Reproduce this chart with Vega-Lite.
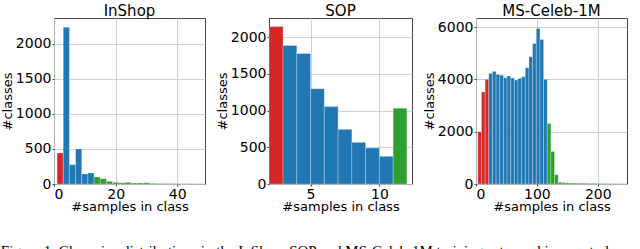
{
  "$schema": "https://vega.github.io/schema/vega-lite/v6.json",
  "padding": {"left": 0, "top": 3, "right": 0, "bottom": 0},
  "background": "white",
  "spacing": 9,
  "title": {
    "text": "Figure 1.    Class size distributions in the InShop, SOP and MS-Celeb-1M training sets used in our study.",
    "orient": "bottom",
    "anchor": "start",
    "font": "Liberation Serif",
    "fontSize": 15,
    "fontWeight": "normal",
    "color": "black",
    "offset": 30,
    "dx": 0
  },
  "config": {
    "font": "DejaVu Sans",
    "view": {"stroke": "#444444", "strokeWidth": 1},
    "title": {"font": "DejaVu Sans", "fontSize": 15, "fontWeight": "normal", "color": "black", "offset": -1},
    "axis": {
      "labelFont": "DejaVu Sans",
      "labelFontSize": 14,
      "labelColor": "black",
      "titleFont": "DejaVu Sans",
      "titleFontSize": 13,
      "titleFontWeight": "normal",
      "titleColor": "black",
      "grid": true,
      "gridColor": "#c8c8c8",
      "gridOpacity": 0.85,
      "gridWidth": 1,
      "domain": false,
      "tickColor": "#444444",
      "tickSize": 2,
      "zindex": 1
    },
    "axisX": {"labelPadding": 1, "titlePadding": -1},
    "axisY": {"labelPadding": 1, "titlePadding": 1}
  },
  "datasets": {
    "inshop": [
      {"x0": 1, "x1": 3, "n": 443, "g": "small"},
      {"x0": 3, "x1": 5, "n": 2238, "g": "medium"},
      {"x0": 5, "x1": 7, "n": 276, "g": "medium"},
      {"x0": 7, "x1": 9, "n": 500, "g": "medium"},
      {"x0": 9, "x1": 11, "n": 143, "g": "medium"},
      {"x0": 11, "x1": 13, "n": 157, "g": "medium"},
      {"x0": 13, "x1": 15, "n": 100, "g": "large"},
      {"x0": 15, "x1": 17, "n": 76, "g": "large"},
      {"x0": 17, "x1": 19, "n": 38, "g": "large"},
      {"x0": 19, "x1": 21, "n": 24, "g": "large"},
      {"x0": 21, "x1": 23, "n": 19, "g": "large"},
      {"x0": 23, "x1": 25, "n": 24, "g": "large"},
      {"x0": 25, "x1": 27, "n": 14, "g": "large"},
      {"x0": 27, "x1": 29, "n": 14, "g": "large"},
      {"x0": 29, "x1": 31, "n": 19, "g": "large"},
      {"x0": 31, "x1": 33, "n": 10, "g": "large"},
      {"x0": 33, "x1": 35, "n": 8, "g": "large"},
      {"x0": 35, "x1": 37, "n": 7, "g": "large"},
      {"x0": 37, "x1": 39, "n": 6, "g": "large"},
      {"x0": 39, "x1": 41, "n": 6, "g": "large"},
      {"x0": 41, "x1": 43, "n": 5, "g": "large"},
      {"x0": 43, "x1": 45, "n": 5, "g": "large"},
      {"x0": 45, "x1": 47, "n": 4, "g": "large"},
      {"x0": 47, "x1": 49, "n": 4, "g": "large"}
    ],
    "sop": [
      {"x0": 2, "x1": 3, "n": 2146, "g": "small"},
      {"x0": 3, "x1": 4, "n": 1887, "g": "medium"},
      {"x0": 4, "x1": 5, "n": 1778, "g": "medium"},
      {"x0": 5, "x1": 6, "n": 1300, "g": "medium"},
      {"x0": 6, "x1": 7, "n": 1055, "g": "medium"},
      {"x0": 7, "x1": 8, "n": 745, "g": "medium"},
      {"x0": 8, "x1": 9, "n": 568, "g": "medium"},
      {"x0": 9, "x1": 10, "n": 491, "g": "medium"},
      {"x0": 10, "x1": 11, "n": 377, "g": "medium"},
      {"x0": 11, "x1": 12, "n": 1032, "g": "large"}
    ],
    "ms": [
      {"x0": 3, "x1": 9, "n": 2000, "g": "small"},
      {"x0": 9, "x1": 15, "n": 3522, "g": "small"},
      {"x0": 15, "x1": 21, "n": 4005, "g": "small"},
      {"x0": 21, "x1": 27, "n": 4234, "g": "medium"},
      {"x0": 27, "x1": 33, "n": 4310, "g": "medium"},
      {"x0": 33, "x1": 39, "n": 4196, "g": "medium"},
      {"x0": 39, "x1": 45, "n": 4170, "g": "medium"},
      {"x0": 45, "x1": 51, "n": 4069, "g": "medium"},
      {"x0": 51, "x1": 57, "n": 4132, "g": "medium"},
      {"x0": 57, "x1": 63, "n": 4056, "g": "medium"},
      {"x0": 63, "x1": 69, "n": 3980, "g": "medium"},
      {"x0": 69, "x1": 75, "n": 4043, "g": "medium"},
      {"x0": 75, "x1": 81, "n": 4107, "g": "medium"},
      {"x0": 81, "x1": 87, "n": 4450, "g": "medium"},
      {"x0": 87, "x1": 93, "n": 4870, "g": "medium"},
      {"x0": 93, "x1": 99, "n": 5378, "g": "medium"},
      {"x0": 99, "x1": 105, "n": 5950, "g": "medium"},
      {"x0": 105, "x1": 111, "n": 5530, "g": "medium"},
      {"x0": 111, "x1": 117, "n": 4005, "g": "medium"},
      {"x0": 117, "x1": 123, "n": 2314, "g": "large"},
      {"x0": 123, "x1": 129, "n": 1246, "g": "large"},
      {"x0": 129, "x1": 135, "n": 356, "g": "large"},
      {"x0": 135, "x1": 141, "n": 64, "g": "large"},
      {"x0": 141, "x1": 147, "n": 50, "g": "large"},
      {"x0": 147, "x1": 153, "n": 45, "g": "large"},
      {"x0": 153, "x1": 159, "n": 40, "g": "large"},
      {"x0": 159, "x1": 165, "n": 35, "g": "large"},
      {"x0": 165, "x1": 171, "n": 35, "g": "large"},
      {"x0": 171, "x1": 177, "n": 30, "g": "large"},
      {"x0": 177, "x1": 183, "n": 30, "g": "large"},
      {"x0": 183, "x1": 189, "n": 25, "g": "large"},
      {"x0": 189, "x1": 195, "n": 25, "g": "large"},
      {"x0": 195, "x1": 201, "n": 25, "g": "large"},
      {"x0": 201, "x1": 207, "n": 20, "g": "large"},
      {"x0": 207, "x1": 213, "n": 20, "g": "large"},
      {"x0": 213, "x1": 219, "n": 20, "g": "large"},
      {"x0": 219, "x1": 225, "n": 15, "g": "large"},
      {"x0": 225, "x1": 231, "n": 15, "g": "large"},
      {"x0": 231, "x1": 237, "n": 15, "g": "large"},
      {"x0": 237, "x1": 243, "n": 10, "g": "large"},
      {"x0": 243, "x1": 248, "n": 10, "g": "large"}
    ]
  },
  "hconcat": [
    {
      "title": "InShop",
      "width": 151,
      "height": 166,
      "data": {"name": "inshop"},
      "mark": {"type": "bar", "stroke": "white", "strokeWidth": 0.6, "strokeOpacity": 0.45, "clip": true},
      "encoding": {
        "x": {"field": "x0", "type": "quantitative", "title": "#samples in class",
              "scale": {"domain": [0, 49], "nice": false, "zero": false},
              "axis": {"values": [0, 20, 40]}},
        "x2": {"field": "x1"},
        "y": {"field": "n", "type": "quantitative", "title": "#classes",
              "scale": {"domain": [0, 2370], "nice": false},
              "axis": {"values": [0, 500, 1000, 1500, 2000], "format": "d"}},
        "y2": {"datum": 0},
        "color": {"field": "g", "type": "nominal", "legend": null,
                  "scale": {"domain": ["small", "medium", "large"], "range": ["#d62728", "#1f77b4", "#2ca02c"]}}
      }
    },
    {
      "title": "SOP",
      "width": 143,
      "height": 166,
      "data": {"name": "sop"},
      "mark": {"type": "bar", "stroke": "white", "strokeWidth": 0.6, "strokeOpacity": 0.45, "clip": true},
      "encoding": {
        "x": {"field": "x0", "type": "quantitative", "title": "#samples in class",
              "scale": {"domain": [1.98, 12.37], "nice": false, "zero": false},
              "axis": {"values": [5, 10]}},
        "x2": {"field": "x1"},
        "y": {"field": "n", "type": "quantitative", "title": "#classes",
              "scale": {"domain": [0, 2263], "nice": false},
              "axis": {"values": [0, 500, 1000, 1500, 2000], "format": "d"}},
        "y2": {"datum": 0},
        "color": {"field": "g", "type": "nominal", "legend": null,
                  "scale": {"domain": ["small", "medium", "large"], "range": ["#d62728", "#1f77b4", "#2ca02c"]}}
      }
    },
    {
      "title": "MS-Celeb-1M",
      "width": 151,
      "height": 166,
      "data": {"name": "ms"},
      "mark": {"type": "bar", "stroke": "white", "strokeWidth": 0.6, "strokeOpacity": 0.45, "clip": true},
      "encoding": {
        "x": {"field": "x0", "type": "quantitative", "title": "#samples in class",
              "scale": {"domain": [0, 248], "nice": false, "zero": false},
              "axis": {"values": [0, 100, 200]}},
        "x2": {"field": "x1"},
        "y": {"field": "n", "type": "quantitative", "title": "#classes",
              "scale": {"domain": [0, 6354], "nice": false},
              "axis": {"values": [0, 2000, 4000, 6000], "format": "d"}},
        "y2": {"datum": 0},
        "color": {"field": "g", "type": "nominal", "legend": null,
                  "scale": {"domain": ["small", "medium", "large"], "range": ["#d62728", "#1f77b4", "#2ca02c"]}}
      }
    }
  ],
  "resolve": {"scale": {"color": "shared"}}
}
